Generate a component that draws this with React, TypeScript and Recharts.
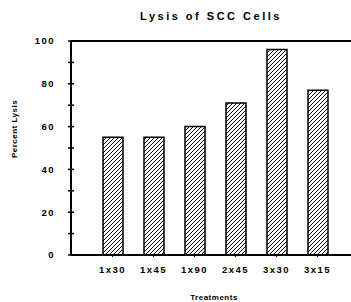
import React from 'react';
import { BarChart, Bar, XAxis, YAxis, ReferenceLine } from 'recharts';

const categories = ['1x30', '1x45', '1x90', '2x45', '3x30', '3x15'];
const lysis = [55, 55, 60, 71, 96, 77];
const yTicks = [0, 10, 20, 30, 40, 50, 60, 70, 80, 90, 100];
const yLabeled = [0, 20, 40, 60, 80, 100];
const title = 'Lysis of SCC Cells';
const yTitle = 'Percent Lysis';
const xTitle = 'Treatments';

const data = categories.map((c, i) => ({ treatment: c, lysis: lysis[i] }));

const font = "'Liberation Sans', Arial, Helvetica, sans-serif";

function YTick(props: any) {
  const { x, y, payload } = props;
  const show = yLabeled.includes(payload.value);
  return (
    <g>
      <line x1={x - 3} x2={x + 3} y1={y} y2={y} stroke="#000" strokeWidth={1.5} />
      {show && (
        <text
          x={x - 16}
          y={y}
          dy="0.35em"
          textAnchor="end"
          fontFamily={font}
          fontWeight="bold"
          fontSize={9.5}
          letterSpacing={1.5}
          fill="#000"
        >
          {payload.value}
        </text>
      )}
    </g>
  );
}

function YTitle() {
  return (
    <text
      transform="translate(17,129) rotate(-90)"
      textAnchor="middle"
      fontFamily={font}
      fontWeight="bold"
      fontSize={8}
      letterSpacing={0.5}
      fill="#000"
    >
      {yTitle}
    </text>
  );
}

export default function App() {
  return (
    <div style={{ position: 'absolute', left: 0, top: 0, width: 351, height: 302, background: '#fff' }}>
      <div
        style={{
          position: 'absolute',
          left: 0,
          top: 9,
          width: 422,
          textAlign: 'center',
          fontFamily: font,
          fontWeight: 'bold',
          fontSize: 11,
          letterSpacing: 2.5,
          lineHeight: '14px',
          color: '#000',
          zIndex: 2,
        }}
      >
        {title}
      </div>
      <BarChart
        width={351}
        height={302}
        data={data}
        margin={{ top: 41, right: 0, bottom: 0, left: 0 }}
        barSize={20}
      >
        <defs>
          <pattern id="hatch" width="4" height="4" patternUnits="userSpaceOnUse">
            <rect width="4" height="4" fill="#fff" />
            <path d="M-1,1 l2,-2 M0,4 l4,-4 M3,5 l2,-2" stroke="#000" strokeWidth={1} />
          </pattern>
        </defs>
        <XAxis
          dataKey="treatment"
          height={47}
          padding={{ left: 21, right: 13 }}
          axisLine={{ stroke: '#000', strokeWidth: 2 }}
          tickLine={{ stroke: '#000', strokeWidth: 1 }}
          tickSize={2}
          tickMargin={9}
          interval={0}
          tick={{ fill: '#000', fontFamily: font, fontWeight: 'bold', fontSize: 9.5, letterSpacing: 1.5 }}
          label={{
            value: xTitle,
            position: 'insideBottom',
            offset: 2,
            dx: 3,
            fill: '#000',
            fontFamily: font,
            fontWeight: 'bold',
            fontSize: 8,
            letterSpacing: 0.5,
          }}
        />
        <YAxis
          width={71}
          domain={[0, 100]}
          ticks={yTicks}
          interval={0}
          axisLine={{ stroke: '#000', strokeWidth: 2 }}
          tickLine={false}
          tickSize={0}
          tickMargin={0}
          tick={<YTick />}
          label={<YTitle />}
        />
        <ReferenceLine y={100} stroke="#000" strokeWidth={2} />
        <Bar dataKey="lysis" fill="url(#hatch)" stroke="#000" strokeWidth={1.5} isAnimationActive={false} />
      </BarChart>
    </div>
  );
}
